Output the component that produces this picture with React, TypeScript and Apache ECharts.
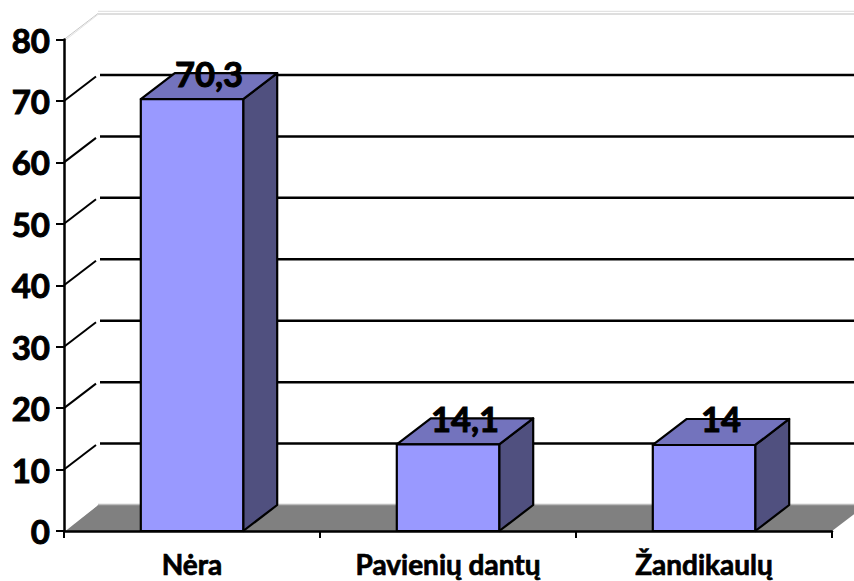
import React, { useEffect, useRef } from "react";
import * as echarts from "echarts";

const categories = ["Nėra", "Pavienių dantų", "Žandikaulų"];
const values = [70.3, 14.1, 14];
const valueLabels = ["70,3", "14,1", "14"];
const wallTicks = [10, 20, 30, 40, 50, 60, 70];
const topTick = [80];
const floorTick = [0];

const DX = 34;
const DY = -26;
const FONT = "Lato, Carlito, Calibri, sans-serif";

export default function App() {
  const ref = useRef<HTMLDivElement>(null);
  useEffect(() => {
    document.body.style.margin = "0";
    const chart = echarts.init(ref.current!, undefined, { renderer: "svg" });
    const rectOf = (p: any) => p.coordSys;
    chart.setOption({
      animation: false,
      backgroundColor: "#fff",
      grid: { left: 64, right: 22, top: 39.5, bottom: 50 },
      xAxis: {
        type: "category",
        data: categories,
        z: 3,
        axisLine: { lineStyle: { color: "#000", width: 2.5 } },
        axisTick: { show: true, length: 7, lineStyle: { color: "#000", width: 2 } },
        axisLabel: { fontFamily: FONT, fontWeight: "bold", fontSize: 28, lineHeight: 28, color: "#000", margin: 19, interval: 0, textBorderColor: "#000", textBorderWidth: 0.7 },
      },
      yAxis: {
        type: "value",
        min: 0,
        max: 80,
        interval: 10,
        z: 3,
        splitLine: { show: false },
        axisLine: { show: true, lineStyle: { color: "#000", width: 2.5 } },
        axisTick: { show: true, length: 8, lineStyle: { color: "#000", width: 2 } },
        axisLabel: { fontFamily: FONT, fontWeight: "bold", fontSize: 33, color: "#000", margin: 14, textBorderColor: "#000", textBorderWidth: 1 },
      },
      series: [
        {
          type: "custom",
          z: 1,
          silent: true,
          data: floorTick,
          encode: { y: 0 },
          clip: false,
          renderItem: (p: any, api: any) => {
            const c = rectOf(p);
            const y = api.coord([0, api.value(0)])[1];
            const l = c.x;
            const r = c.x + c.width;
            return {
              type: "group",
              children: [
                { type: "polygon", shape: { points: [[l, y], [l + DX, y + DY], [r + DX, y + DY], [r, y]] }, style: { fill: "#808080" } },
                { type: "line", shape: { x1: l + DX, y1: y + DY - 0.5, x2: r + DX, y2: y + DY - 0.5 }, style: { stroke: "#bdbdbd", lineWidth: 1.5 } },
                { type: "line", shape: { x1: l + 1, y1: y - 0.5, x2: l + DX - 1, y2: y + DY }, style: { stroke: "#fff", lineWidth: 1.5 } },
              ],
            };
          },
        },
        {
          type: "custom",
          z: 1,
          silent: true,
          data: topTick,
          encode: { y: 0 },
          clip: false,
          renderItem: (p: any, api: any) => {
            const c = rectOf(p);
            const y = api.coord([0, api.value(0)])[1];
            const l = c.x;
            const r = c.x + c.width;
            return {
              type: "group",
              children: [
                { type: "line", shape: { x1: l + DX, y1: y + DY + 0.5, x2: r + DX, y2: y + DY + 0.5 }, style: { stroke: "#bdbdbd", lineWidth: 1.2 } },
                { type: "line", shape: { x1: l + DX, y1: y + DY - 2.2, x2: r + DX, y2: y + DY - 2.2 }, style: { stroke: "#e3e3e3", lineWidth: 1.2 } },
                { type: "line", shape: { x1: l, y1: y, x2: l + DX, y2: y + DY }, style: { stroke: "#c8c8c8", lineWidth: 1 } },
                { type: "line", shape: { x1: l + 1, y1: y + 1, x2: l + DX, y2: y + DY + 1 }, style: { stroke: "#e3e3e3", lineWidth: 1 } },
              ],
            };
          },
        },
        {
          type: "custom",
          z: 1,
          silent: true,
          data: wallTicks,
          encode: { y: 0 },
          clip: false,
          renderItem: (p: any, api: any) => {
            const c = rectOf(p);
            const y = api.coord([0, api.value(0)])[1];
            const l = c.x;
            const r = c.x + c.width;
            return {
              type: "group",
              children: [
                { type: "line", shape: { x1: l, y1: y, x2: l + DX - 2, y2: y + DY + 1.5 }, style: { stroke: "#000", lineWidth: 2 } },
                { type: "line", shape: { x1: l + DX + 2, y1: y + DY, x2: r + DX, y2: y + DY }, style: { stroke: "#000", lineWidth: 2.5 } },
              ],
            };
          },
        },
        {
          type: "custom",
          z: 5,
          silent: true,
          data: values.map((v, i) => [i, v]),
          encode: { x: 0, y: 1 },
          clip: false,
          renderItem: (p: any, api: any) => {
            const i = api.value(0);
            const top = api.coord([i, api.value(1)]);
            const base = api.coord([i, 0]);
            const w = api.size([1, 0])[0] * 0.4;
            const l = top[0] - w / 2;
            const r = top[0] + w / 2;
            const t = top[1];
            const b = base[1];
            const line = { stroke: "#000", lineWidth: 2.2, lineJoin: "round" };
            return {
              type: "group",
              children: [
                { type: "polygon", shape: { points: [[r, t], [r + DX, t + DY], [r + DX, b + DY], [r, b]] }, style: { fill: "#50507f", ...line } },
                { type: "polygon", shape: { points: [[l, t], [l + DX, t + DY], [r + DX, t + DY], [r, t]] }, style: { fill: "#7373bd", ...line } },
                { type: "rect", shape: { x: l, y: t, width: w, height: b - t }, style: { fill: "#9999ff", ...line } },
                {
                  type: "text",
                  x: top[0] + DX / 2,
                  y: t + DY,
                  style: {
                    text: valueLabels[p.dataIndex],
                    fill: "#000",
                    stroke: "#000",
                    lineWidth: 1,
                    font: `bold 34.5px ${FONT}`,
                    align: "center",
                    verticalAlign: "middle",
                  },
                },
              ],
            };
          },
        },
      ],
    });
    return () => chart.dispose();
  }, []);
  return <div ref={ref} style={{ width: 854, height: 581, overflow: "hidden" }} />;
}
